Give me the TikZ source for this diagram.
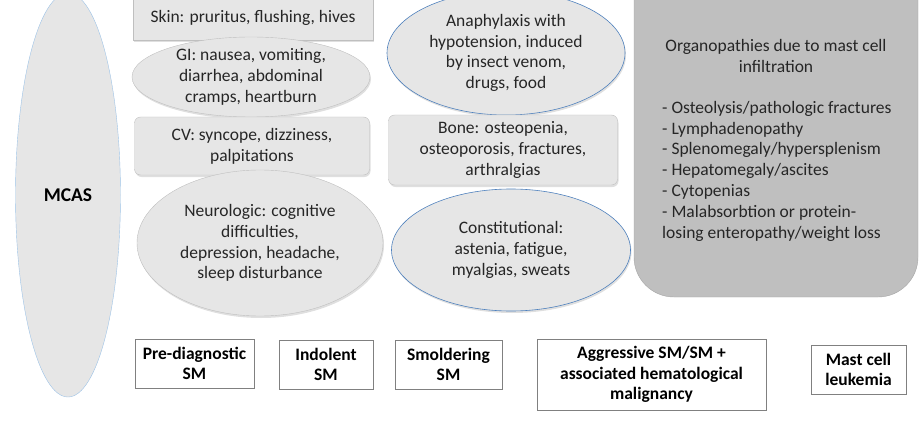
\documentclass[tikz,border=0pt]{standalone}
\usepackage{fontspec}
\setmainfont{Carlito}
\usetikzlibrary{shapes.geometric,shadows}
\definecolor{lgray}{HTML}{E6E6E6}
\definecolor{mgray}{HTML}{BFBFBF}
\definecolor{bdgray}{HTML}{A6A6A6}
\definecolor{bblue}{HTML}{4F81BD}
\definecolor{lblue}{HTML}{9DC3E6}
\definecolor{boxgray}{HTML}{808080}
\tikzset{
  base/.style={font=\fontsize{17.5}{20.8}\selectfont, align=center, inner sep=0pt, text=black!85},
  shd/.style={drop shadow={opacity=0.25, shadow xshift=1pt, shadow yshift=-2pt}},
  grayell/.style={base, ellipse, fill=lgray, draw=mgray, shd},
  blueell/.style={base, ellipse, fill=lgray, draw=bblue, line width=0.6pt, shd},
  graybox/.style={base, rectangle, rounded corners=6pt, fill=lgray, draw=mgray, shd},
  stage/.style={base, rectangle, fill=white, draw=boxgray, line width=0.8pt, font=\fontsize{17.5}{20.8}\selectfont\bfseries, text=black},
}
\begin{document}
\begin{tikzpicture}[x=1pt,y=-1pt]
\useasboundingbox (0,0) rectangle (920,425);
\clip (0,0) rectangle (920,425);
% MCAS
\node[base, ellipse, fill=lgray, draw=lblue, minimum width=105, minimum height=404, font=\fontsize{19.5}{22}\selectfont\bfseries, text=black] (mcas) at (68,195) {MCAS};
% left column
\node[graybox, rounded corners=0pt, minimum width=240, minimum height=52] (skin) at (253,14) {};
\node[base] (skint) at (253,18) {Skin: pruritus, flushing, hives};
\node[grayell, minimum width=238, minimum height=80] (gi) at (251,77) {GI: nausea, vomiting,\\diarrhea, abdominal\\cramps, heartburn};
\node[graybox, minimum width=235, minimum height=58] (cv) at (252,146) {CV: syncope, dizziness,\\palpitations};
\node[grayell, minimum width=246, minimum height=146] (neuro) at (260,243) {Neurologic: cognitive\\difficulties,\\depression, headache,\\sleep disturbance};
% middle column
\node[blueell, minimum width=238, minimum height=124] (ana) at (506,53) {Anaphylaxis with\\hypotension, induced\\by insect venom,\\drugs, food};
\node[graybox, minimum width=229, minimum height=70] (bone) at (503,150) {Bone: osteopenia,\\osteoporosis, fractures,\\arthralgias};
\node[blueell, minimum width=239, minimum height=122] (const) at (511,250) {Constitutional:\\astenia, fatigue,\\myalgias, sweats};
% right
\node[rectangle, rounded corners=40pt, fill=mgray, draw=bdgray, minimum width=284, minimum height=340, inner sep=0pt] (org) at (776,127) {};
\node[base, anchor=center] (orgt) at (776,56) {Organopathies due to mast cell\\infiltration};
\node[base, align=left, anchor=north west] (orgl) at (662,101) {- Osteolysis/pathologic fractures\\- Lymphadenopathy\\- Splenomegaly/hypersplenism\\- Hepatomegaly/ascites\\- Cytopenias\\- Malabsorbtion or protein-\\losing enteropathy/weight loss};
% stages
\node[stage, minimum width=119, minimum height=49] (pre) at (194.5,363.5) {Pre-diagnostic\\SM};
\node[stage, minimum width=94, minimum height=49] (ind) at (326,364.5) {Indolent\\SM};
\node[stage, minimum width=107, minimum height=49] (smo) at (448.5,364.5) {Smoldering\\SM};
\node[stage, minimum width=229, minimum height=71] (agg) at (651.5,374.5) {Aggressive SM/SM +\\associated hematological\\malignancy};
\node[stage, minimum width=95, minimum height=49] (mcl) at (858.5,369.5) {Mast cell\\leukemia};
\end{tikzpicture}
\end{document}
